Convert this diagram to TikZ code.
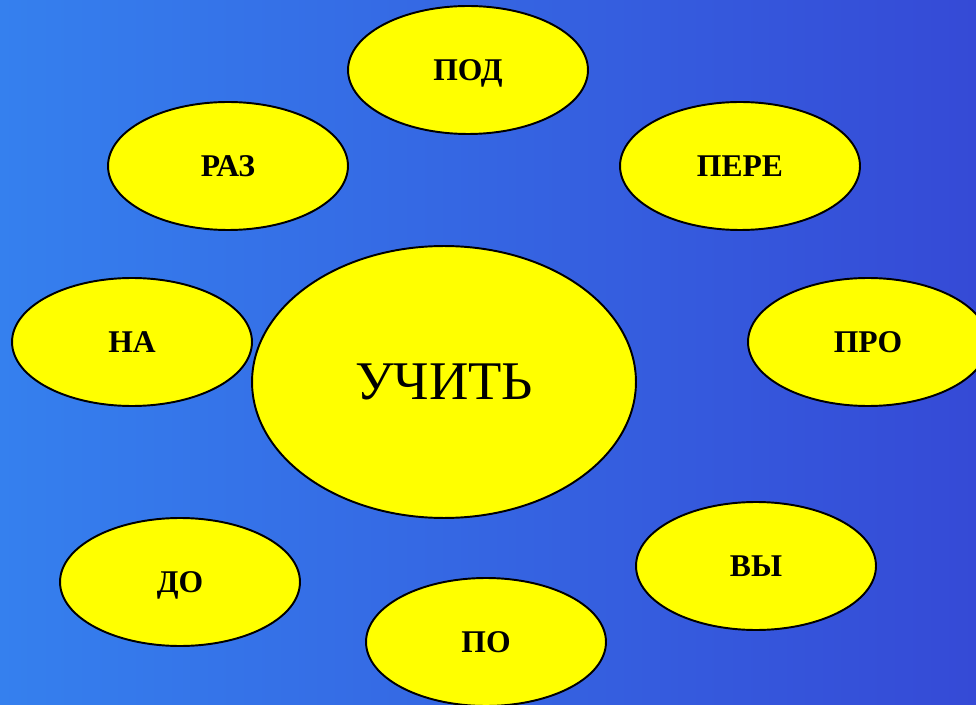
\documentclass[tikz,border=0pt]{standalone}
\usepackage{fontspec}
\setmainfont{Liberation Serif}
\usepackage{xcolor}
\usetikzlibrary{shapes.geometric}
\definecolor{bgleft}{RGB}{53,128,238}
\definecolor{bgright}{RGB}{53,74,214}
\definecolor{bubble}{RGB}{255,255,0}
\tikzset{
  prefixbox/.style={ellipse, draw=black, line width=1.1pt, fill=bubble, inner sep=0pt,
    text depth=0pt, minimum width=4.8cm, minimum height=2.56cm,
    font=\fontsize{18}{20}\selectfont\bfseries},
  rootbox/.style={ellipse, draw=black, line width=1.1pt, fill=bubble, inner sep=0pt,
    text depth=0pt, minimum width=7.68cm, minimum height=5.44cm,
    font=\fontsize{31}{34}\selectfont}
}
\begin{document}
\begin{tikzpicture}[x=0.02cm,y=-0.02cm]
\useasboundingbox (0,0) rectangle (976,705);
\clip (0,0) rectangle (976,705);
\shade[left color=bgleft, right color=bgright] (0,0) rectangle (976,705);
% root word in the middle
\node[rootbox] (uchit) at (444,382) {УЧИТЬ};
% prefixes around it
\node[prefixbox] (pod) at (468,70) {ПОД};
\node[prefixbox] (raz) at (228,166) {РАЗ};
\node[prefixbox] (pere) at (740,166) {ПЕРЕ};
\node[prefixbox] (na) at (132,342) {НА};
\node[prefixbox] (pro) at (868,342) {ПРО};
\node[prefixbox] (do) at (180,582) {ДО};
\node[prefixbox] (vy) at (756,566) {ВЫ};
\node[prefixbox] (po) at (486,642) {ПО};
\end{tikzpicture}
\end{document}
